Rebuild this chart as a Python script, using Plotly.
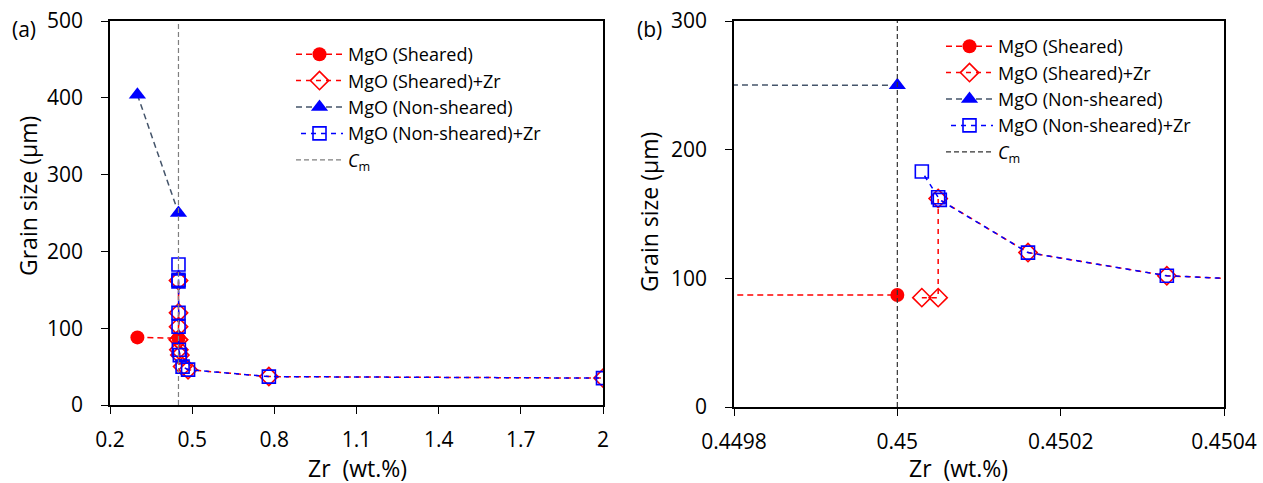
import plotly.graph_objects as go

# ---------------- data ----------------
sheared_x = [0.30, 0.45]
sheared_y = [88, 87]

nonsheared_x = [0.30, 0.45]
nonsheared_y = [404, 250]

sheared_zr_x = [0.45003, 0.45005, 0.45005, 0.45016, 0.45033, 0.4514, 0.455, 0.465, 0.485, 0.78, 2.0]
sheared_zr_y = [85, 85, 162, 120, 102, 72, 65, 50, 46, 37, 35]

nonsheared_zr_x = [0.45003, 0.45005, 0.450052, 0.45016, 0.45033, 0.4514, 0.455, 0.465, 0.485, 0.78, 2.0]
nonsheared_zr_y = [183, 163, 161, 120, 102, 72, 65, 50, 46, 37, 35]

cm_x = [0.45, 0.45]
cm_y_left = [0, 500]
cm_y_right = [0, 300]

left_xticks = [0.2, 0.5, 0.8, 1.1, 1.4, 1.7, 2.0]
left_xticktext = ["0.2", "0.5", "0.8", "1.1", "1.4", "1.7", "2"]
right_xticks = [0.4498, 0.45, 0.4502, 0.4504]
right_xticktext = ["0.4498", "0.45", "0.4502", "0.4504"]
left_yticks = [0, 100, 200, 300, 400, 500]
right_yticks = [0, 100, 200, 300]

labels = ["MgO (Sheared)", "MgO (Sheared)+Zr", "MgO (Non-sheared)", "MgO (Non-sheared)+Zr", "<i>C</i><sub>m</sub>"]

# ---------------- styling ----------------
W, H = 1263, 483
FONT = "Open Sans"
RED = "#FF0000"
BLUE = "#0000FF"
SLATE = "#44546A"

fig = go.Figure()


def add_panel(xa, ya, leg, cm_y, cm_color):
    fig.add_trace(go.Scatter(
        x=sheared_x, y=sheared_y, mode="lines+markers", name=labels[0],
        line=dict(color=RED, width=1.5, dash="6px,4px"),
        marker=dict(symbol="circle", size=14, color=RED),
        xaxis=xa, yaxis=ya, legend=leg))
    fig.add_trace(go.Scatter(
        x=sheared_zr_x, y=sheared_zr_y, mode="lines+markers", name=labels[1],
        line=dict(color=RED, width=1.5, dash="5px,5px"),
        marker=dict(symbol="diamond-open", size=14, color=RED, line=dict(width=1.6)),
        xaxis=xa, yaxis=ya, legend=leg))
    fig.add_trace(go.Scatter(
        x=nonsheared_x, y=nonsheared_y, mode="lines+markers", name=labels[2],
        line=dict(color=SLATE, width=1.5, dash="6px,4px"),
        marker=dict(symbol="triangle-up", size=15, color=BLUE),
        xaxis=xa, yaxis=ya, legend=leg))
    fig.add_trace(go.Scatter(
        x=nonsheared_zr_x, y=nonsheared_zr_y, mode="lines+markers", name=labels[3],
        line=dict(color=BLUE, width=1.5, dash="0px,5px,5px,0px"),
        marker=dict(symbol="square-open", size=13, color=BLUE, line=dict(width=1.6)),
        xaxis=xa, yaxis=ya, legend=leg))
    fig.add_trace(go.Scatter(
        x=cm_x, y=cm_y, mode="lines", name=labels[4],
        line=dict(color=cm_color, width=1.2, dash="5px,3px"),
        xaxis=xa, yaxis=ya, legend=leg))


add_panel("x", "y", "legend", cm_y_left, "#7F7F7F")
add_panel("x2", "y2", "legend2", cm_y_right, "#333333")

axis_common = dict(
    showline=True, linecolor="black", linewidth=1.5, mirror=True,
    ticks="outside", ticklen=7, tickwidth=1.2, tickcolor="black",
    showgrid=False, zeroline=False, automargin=False,
    tickfont=dict(family=FONT, size=21, color="black"),
)

leg_font = dict(family=FONT, size=18, color="black")
fig.update_layout(
    width=W, height=H,
    margin=dict(l=0, r=0, t=0, b=0),
    paper_bgcolor="white", plot_bgcolor="white",
    font=dict(family=FONT, color="black"),
    showlegend=True,
    xaxis=dict(domain=[110 / W, 603 / W], range=[0.2, 2.0], anchor="y",
               tickvals=left_xticks, ticktext=left_xticktext, ticklabelstandoff=8, **axis_common),
    yaxis=dict(domain=[1 - 405 / H, 1 - 21 / H], range=[0, 500], anchor="x",
               tickvals=left_yticks, ticklabelstandoff=14, **axis_common),
    xaxis2=dict(domain=[734 / W, 1224 / W], range=[0.4498, 0.4504], anchor="y2",
                tickvals=right_xticks, ticktext=right_xticktext, ticklabelstandoff=8, **axis_common),
    yaxis2=dict(domain=[1 - 407 / H, 1 - 21 / H], range=[0, 300], anchor="x2",
                tickvals=right_yticks, ticklabelstandoff=14, **axis_common),
    legend=dict(x=291 / W, y=1 - 36 / H, xanchor="left", yanchor="top", itemwidth=47,
                bgcolor="rgba(0,0,0,0)", font=leg_font,
                itemclick=False, itemdoubleclick=False),
    legend2=dict(x=941 / W, y=1 - 28 / H, xanchor="left", yanchor="top", itemwidth=47,
                 bgcolor="rgba(0,0,0,0)", font=leg_font,
                 itemclick=False, itemdoubleclick=False),
)

ann_font = dict(family=FONT, size=21, color="black")
title_font = dict(family=FONT, size=23, color="black")
annotations = [
    dict(text="(a)", x=24 / W, y=1 - 29 / H, font=ann_font),
    dict(text="(b)", x=649 / W, y=1 - 29 / H, font=ann_font),
    dict(text="Grain size (μm)", x=28 / W, y=1 - 196 / H, textangle=-90, font=title_font),
    dict(text="Grain size (μm)", x=649 / W, y=1 - 212 / H, textangle=-90, font=title_font),
    dict(text="Zr  (wt.%)", x=357 / W, y=1 - 468 / H, font=title_font),
    dict(text="Zr  (wt.%)", x=958 / W, y=1 - 468 / H, font=title_font),
]
for a in annotations:
    fig.add_annotation(xref="paper", yref="paper", showarrow=False,
                       xanchor="center", yanchor="middle", **a)

fig.write_html(
    "out.html",
    config={"displayModeBar": False},
    post_script="document.body.style.margin='0px';document.body.style.overflow='hidden';",
)
